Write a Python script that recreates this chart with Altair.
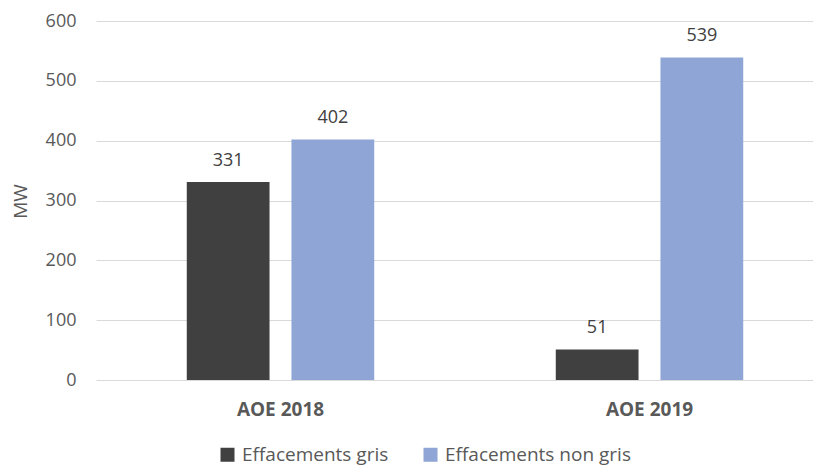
import altair as alt
import pandas as pd

categories = ["AOE 2018", "AOE 2019"]
series = ["Effacements gris", "Effacements non gris"]
gris = [331, 51]
non_gris = [402, 539]
colors = ["#404040", "#8FA5D5"]
y_ticks = [0, 100, 200, 300, 400, 500, 600]

rows = []
for i, c in enumerate(categories):
    rows.append({"cat": c, "series": series[0], "value": gris[i]})
    rows.append({"cat": c, "series": series[1], "value": non_gris[i]})
df = pd.DataFrame(rows)

FONT = "Open Sans"

base = alt.Chart(df).encode(
    x=alt.X(
        "cat:N",
        sort=categories,
        scale=alt.Scale(range=[0, 738], paddingInner=0, paddingOuter=0),
        axis=alt.Axis(
            title=None, labelAngle=0, domain=False, ticks=False,
            labelFontWeight="bold", labelFontSize=19, labelColor="#595959",
            labelPadding=20, labelFont=FONT,
        ),
    ),
    xOffset=alt.XOffset(
        "series:N", sort=series,
        scale=alt.Scale(paddingInner=0.2095, paddingOuter=0.867),
    ),
    y=alt.Y(
        "value:Q",
        scale=alt.Scale(domain=[0, 600]),
        axis=alt.Axis(
            values=y_ticks, title="MW", domain=False, ticks=False, tickSize=0,
            labelFontSize=18, labelColor="#595959", labelPadding=20, labelFont=FONT,
            titleFontSize=19, titleColor="#595959", titleFontWeight="normal",
            titleFont=FONT, titleX=-76, titleY=180, titleAngle=270,
            titleAlign="center", titleBaseline="middle",
            gridColor="#D9D9D9", gridWidth=1,
        ),
    ),
)

bars = base.mark_bar().encode(
    color=alt.Color(
        "series:N",
        sort=series,
        scale=alt.Scale(domain=series, range=colors),
        legend=alt.Legend(
            title=None, orient="none", legendX=122, legendY=424,
            direction="horizontal", symbolType="square", symbolSize=196,
            symbolStrokeWidth=0, labelFontSize=19, labelColor="#595959",
            labelFont=FONT, columnPadding=32, labelOffset=5, labelLimit=400,
        ),
    )
)

text = base.mark_text(
    baseline="bottom", dy=-12, fontSize=18, color="#404040", font=FONT
).encode(text="value:Q")

chart = (
    (bars + text)
    .properties(
        width=717, height=359,
        autosize=alt.AutoSizeParams(type="none"),
        padding={"left": 88, "top": 13, "right": 0, "bottom": 88},
    )
    .configure_view(stroke=None)
)

chart.save("out.html", embed_options={"renderer": "svg", "actions": False})
